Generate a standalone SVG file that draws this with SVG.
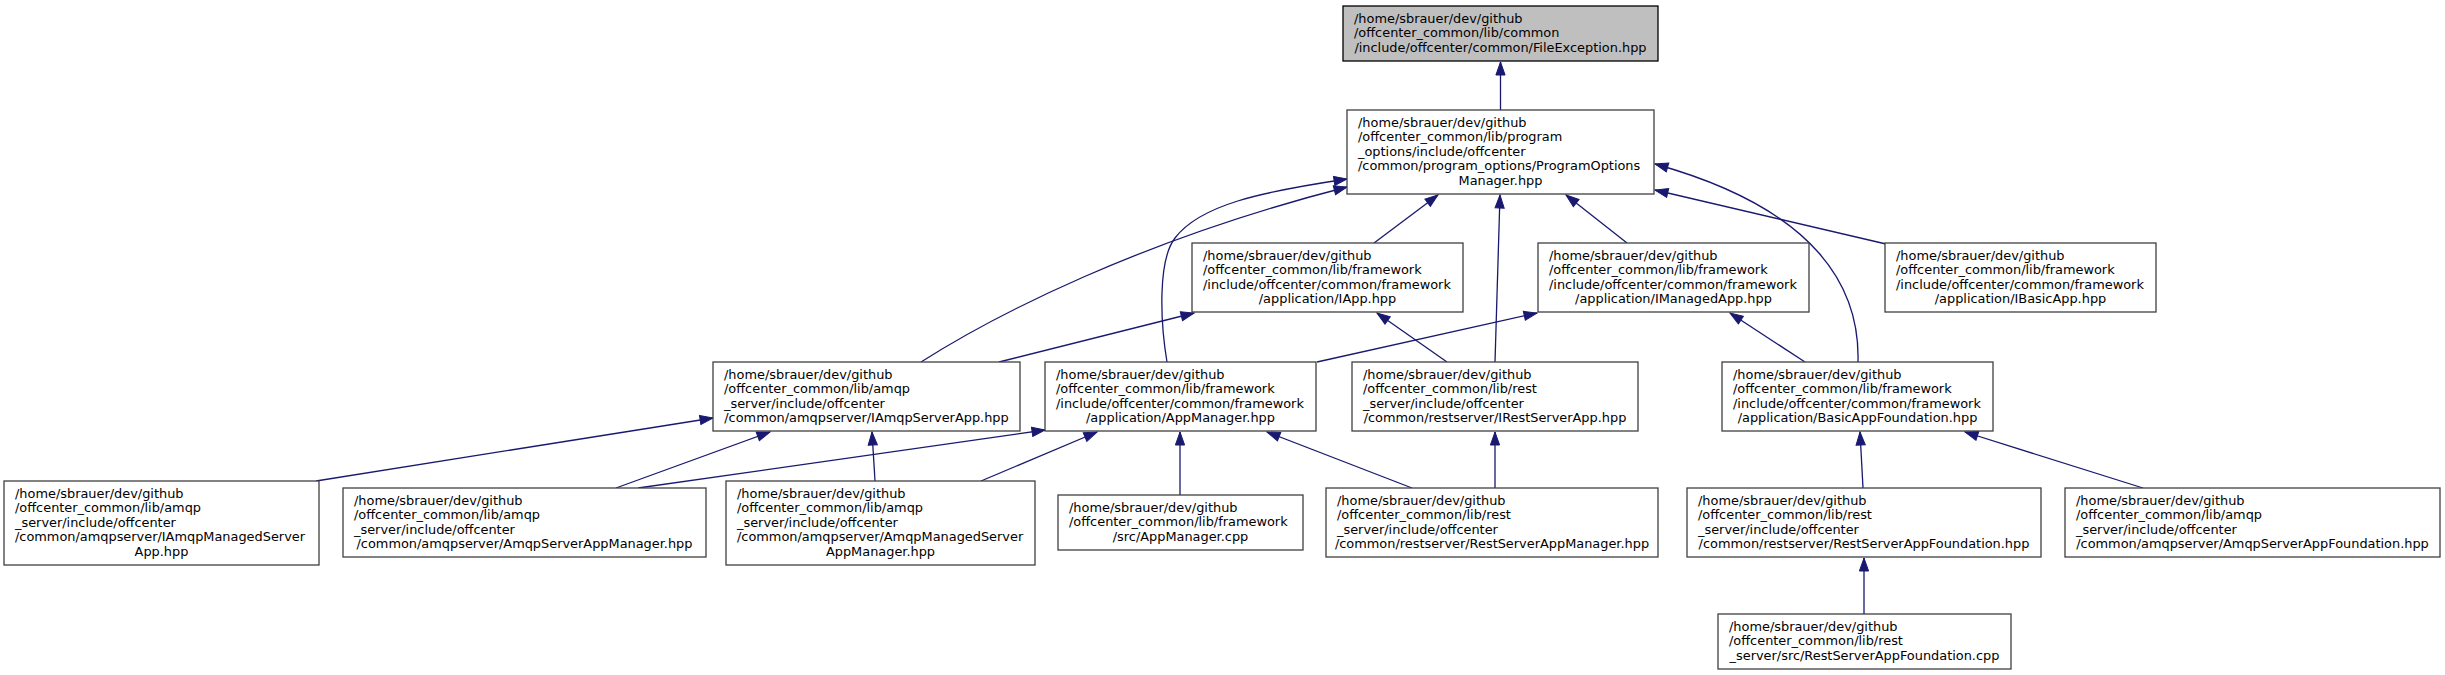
<svg xmlns="http://www.w3.org/2000/svg" width="2445" height="675" viewBox="0 0 2445 675">
<style>
.n{fill:#ffffff;stroke:#404040;stroke-width:1.3}
.root{fill:#bfbfbf;stroke:#000000;stroke-width:1.3}
.t{font-family:"DejaVu Sans",sans-serif;font-size:12.9px;fill:#000000}
.c{text-anchor:middle}
.e{fill:none;stroke:#191970;stroke-width:1.3;marker-end:url(#ah)}
</style>
<defs>
<marker id="ah" viewBox="0 0 14 10" refX="13" refY="5" markerWidth="14" markerHeight="10" orient="auto" markerUnits="userSpaceOnUse" overflow="visible">
<path d="M0,0.4 L13,5 L0,9.6 Z" fill="#191970" stroke="#191970" stroke-width="1"/>
</marker>
</defs>
<rect width="2445" height="675" fill="#ffffff"/>
<g id="connectors">
<path class="e" d="M1500.5,110 L1500.5,62"/>
<path class="e" d="M1374,243 L1438,195"/>
<path class="e" d="M1627,243 L1566,195"/>
<path class="e" d="M1886,244 L1655,190"/>
<path class="e" d="M1858,362 C1860,290 1820,210 1655,164"/>
<path class="e" d="M1495,362 L1500,195"/>
<path class="e" d="M921,362 C995,315 1140,240 1347,187"/>
<path class="e" d="M1167,362 C1160,320 1158,260 1175,238 C1200,205 1260,192 1347,179"/>
<path class="e" d="M999,362 L1194,313"/>
<path class="e" d="M1447,362 L1377,313"/>
<path class="e" d="M1317,362 L1537,313"/>
<path class="e" d="M1805,362 L1730,313"/>
<path class="e" d="M316,481 L713,418"/>
<path class="e" d="M616,488 L770,432"/>
<path class="e" d="M638,488 L1045,430"/>
<path class="e" d="M875,481 L872,432"/>
<path class="e" d="M981,481 L1097,432"/>
<path class="e" d="M1180,495 L1180,432"/>
<path class="e" d="M1412,488 L1267,432"/>
<path class="e" d="M1495,488 L1495,432"/>
<path class="e" d="M1863,488 L1860,432"/>
<path class="e" d="M2143,488 L1965,432"/>
<path class="e" d="M1864,614 L1864,558"/>
</g>
<g id="node-FileException">
<rect class="root" x="1343" y="6" width="315" height="55"/>
<text class="t"><tspan x="1354" y="22.5">/home/sbrauer/dev/github</tspan><tspan x="1354" y="37">/offcenter_common/lib/common</tspan><tspan x="1500.5" y="51.5" class="c">/include/offcenter/common/FileException.hpp</tspan></text>
</g>
<g id="node-ProgramOptionsManager">
<rect class="n" x="1347" y="110" width="307" height="84"/>
<text class="t"><tspan x="1358" y="126.5">/home/sbrauer/dev/github</tspan><tspan x="1358" y="141">/offcenter_common/lib/program</tspan><tspan x="1358" y="155.5">_options/include/offcenter</tspan><tspan x="1358" y="170">/common/program_options/ProgramOptions</tspan><tspan x="1500.5" y="184.5" class="c">Manager.hpp</tspan></text>
</g>
<g id="node-IApp">
<rect class="n" x="1192" y="243" width="271" height="69"/>
<text class="t"><tspan x="1203" y="259.5">/home/sbrauer/dev/github</tspan><tspan x="1203" y="274">/offcenter_common/lib/framework</tspan><tspan x="1203" y="288.5">/include/offcenter/common/framework</tspan><tspan x="1327.5" y="303" class="c">/application/IApp.hpp</tspan></text>
</g>
<g id="node-IManagedApp">
<rect class="n" x="1538" y="243" width="271" height="69"/>
<text class="t"><tspan x="1549" y="259.5">/home/sbrauer/dev/github</tspan><tspan x="1549" y="274">/offcenter_common/lib/framework</tspan><tspan x="1549" y="288.5">/include/offcenter/common/framework</tspan><tspan x="1673.5" y="303" class="c">/application/IManagedApp.hpp</tspan></text>
</g>
<g id="node-IBasicApp">
<rect class="n" x="1885" y="243" width="271" height="69"/>
<text class="t"><tspan x="1896" y="259.5">/home/sbrauer/dev/github</tspan><tspan x="1896" y="274">/offcenter_common/lib/framework</tspan><tspan x="1896" y="288.5">/include/offcenter/common/framework</tspan><tspan x="2020.5" y="303" class="c">/application/IBasicApp.hpp</tspan></text>
</g>
<g id="node-IAmqpServerApp">
<rect class="n" x="713" y="362" width="307" height="69"/>
<text class="t"><tspan x="724" y="378.5">/home/sbrauer/dev/github</tspan><tspan x="724" y="393">/offcenter_common/lib/amqp</tspan><tspan x="724" y="407.5">_server/include/offcenter</tspan><tspan x="866.5" y="422" class="c">/common/amqpserver/IAmqpServerApp.hpp</tspan></text>
</g>
<g id="node-AppManagerHpp">
<rect class="n" x="1045" y="362" width="271" height="69"/>
<text class="t"><tspan x="1056" y="378.5">/home/sbrauer/dev/github</tspan><tspan x="1056" y="393">/offcenter_common/lib/framework</tspan><tspan x="1056" y="407.5">/include/offcenter/common/framework</tspan><tspan x="1180.5" y="422" class="c">/application/AppManager.hpp</tspan></text>
</g>
<g id="node-IRestServerApp">
<rect class="n" x="1352" y="362" width="286" height="69"/>
<text class="t"><tspan x="1363" y="378.5">/home/sbrauer/dev/github</tspan><tspan x="1363" y="393">/offcenter_common/lib/rest</tspan><tspan x="1363" y="407.5">_server/include/offcenter</tspan><tspan x="1495" y="422" class="c">/common/restserver/IRestServerApp.hpp</tspan></text>
</g>
<g id="node-BasicAppFoundation">
<rect class="n" x="1722" y="362" width="271" height="69"/>
<text class="t"><tspan x="1733" y="378.5">/home/sbrauer/dev/github</tspan><tspan x="1733" y="393">/offcenter_common/lib/framework</tspan><tspan x="1733" y="407.5">/include/offcenter/common/framework</tspan><tspan x="1857.5" y="422" class="c">/application/BasicAppFoundation.hpp</tspan></text>
</g>
<g id="node-IAmqpManagedServerApp">
<rect class="n" x="4" y="481" width="315" height="84"/>
<text class="t"><tspan x="15" y="497.5">/home/sbrauer/dev/github</tspan><tspan x="15" y="512">/offcenter_common/lib/amqp</tspan><tspan x="15" y="526.5">_server/include/offcenter</tspan><tspan x="15" y="541">/common/amqpserver/IAmqpManagedServer</tspan><tspan x="161.5" y="555.5" class="c">App.hpp</tspan></text>
</g>
<g id="node-AmqpServerAppManager">
<rect class="n" x="343" y="488" width="363" height="69"/>
<text class="t"><tspan x="354" y="504.5">/home/sbrauer/dev/github</tspan><tspan x="354" y="519">/offcenter_common/lib/amqp</tspan><tspan x="354" y="533.5">_server/include/offcenter</tspan><tspan x="524.5" y="548" class="c">/common/amqpserver/AmqpServerAppManager.hpp</tspan></text>
</g>
<g id="node-AmqpManagedServerAppManager">
<rect class="n" x="726" y="481" width="309" height="84"/>
<text class="t"><tspan x="737" y="497.5">/home/sbrauer/dev/github</tspan><tspan x="737" y="512">/offcenter_common/lib/amqp</tspan><tspan x="737" y="526.5">_server/include/offcenter</tspan><tspan x="737" y="541">/common/amqpserver/AmqpManagedServer</tspan><tspan x="880.5" y="555.5" class="c">AppManager.hpp</tspan></text>
</g>
<g id="node-AppManagerCpp">
<rect class="n" x="1058" y="495" width="245" height="55"/>
<text class="t"><tspan x="1069" y="511.5">/home/sbrauer/dev/github</tspan><tspan x="1069" y="526">/offcenter_common/lib/framework</tspan><tspan x="1180.5" y="540.5" class="c">/src/AppManager.cpp</tspan></text>
</g>
<g id="node-RestServerAppManager">
<rect class="n" x="1326" y="488" width="332" height="69"/>
<text class="t"><tspan x="1337" y="504.5">/home/sbrauer/dev/github</tspan><tspan x="1337" y="519">/offcenter_common/lib/rest</tspan><tspan x="1337" y="533.5">_server/include/offcenter</tspan><tspan x="1492" y="548" class="c">/common/restserver/RestServerAppManager.hpp</tspan></text>
</g>
<g id="node-RestServerAppFoundation">
<rect class="n" x="1687" y="488" width="354" height="69"/>
<text class="t"><tspan x="1698" y="504.5">/home/sbrauer/dev/github</tspan><tspan x="1698" y="519">/offcenter_common/lib/rest</tspan><tspan x="1698" y="533.5">_server/include/offcenter</tspan><tspan x="1864" y="548" class="c">/common/restserver/RestServerAppFoundation.hpp</tspan></text>
</g>
<g id="node-AmqpServerAppFoundation">
<rect class="n" x="2065" y="488" width="375" height="69"/>
<text class="t"><tspan x="2076" y="504.5">/home/sbrauer/dev/github</tspan><tspan x="2076" y="519">/offcenter_common/lib/amqp</tspan><tspan x="2076" y="533.5">_server/include/offcenter</tspan><tspan x="2252.5" y="548" class="c">/common/amqpserver/AmqpServerAppFoundation.hpp</tspan></text>
</g>
<g id="node-RestServerAppFoundationCpp">
<rect class="n" x="1718" y="614" width="293" height="55"/>
<text class="t"><tspan x="1729" y="630.5">/home/sbrauer/dev/github</tspan><tspan x="1729" y="645">/offcenter_common/lib/rest</tspan><tspan x="1864.5" y="659.5" class="c">_server/src/RestServerAppFoundation.cpp</tspan></text>
</g>
</svg>
